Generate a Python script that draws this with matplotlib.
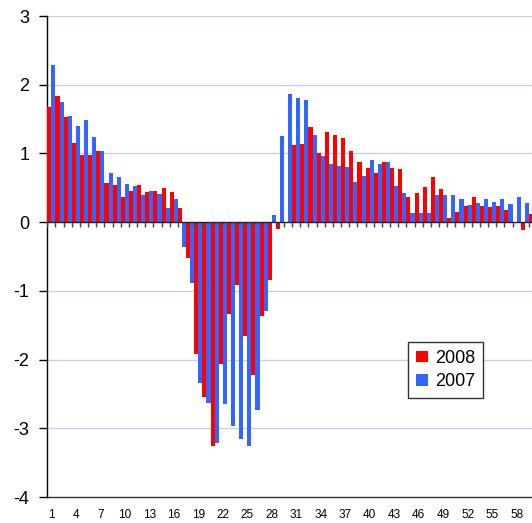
import numpy as np
import matplotlib
matplotlib.use("Agg")
import matplotlib.pyplot as plt

plt.rcParams['font.family'] = ['Liberation Sans', 'DejaVu Sans']

categories = list(range(1, 61))
series_2008 = [1.67, 1.84, 1.53, 1.15, 0.97, 0.97, 1.03, 0.57, 0.54, 0.37,
               0.46, 0.54, 0.44, 0.46, 0.49, 0.44, 0.21, -0.52, -1.92, -2.55,
               -3.26, -2.06, -1.33, -0.92, -1.66, -2.22, -1.37, -0.84, -0.10, 0.0,
               1.12, 1.14, 1.39, 1.00, 1.31, 1.27, 1.22, 1.03, 0.88, 0.79,
               0.72, 0.88, 0.79, 0.77, 0.37, 0.43, 0.51, 0.65, 0.48, 0.06,
               0.15, 0.24, 0.37, 0.24, 0.22, 0.24, 0.18, 0.0, -0.11, 0.12]
series_2007 = [2.29, 1.75, 1.55, 1.40, 1.49, 1.24, 1.03, 0.71, 0.66, 0.55,
               0.52, 0.39, 0.46, 0.41, 0.21, 0.33, -0.36, -0.89, -2.34, -2.63,
               -3.21, -2.64, -2.96, -3.15, -3.26, -2.73, -1.29, 0.10, 1.26, 1.87,
               1.81, 1.78, 1.27, 0.96, 0.84, 0.81, 0.80, 0.58, 0.67, 0.90,
               0.84, 0.87, 0.52, 0.43, 0.14, 0.13, 0.14, 0.39, 0.39, 0.39,
               0.33, 0.25, 0.28, 0.33, 0.30, 0.34, 0.27, 0.36, 0.28, 0.30]
series_names = ["2008", "2007"]
x_tick_labels = [str(c) for c in categories[::3]]
y_ticks = [3, 2, 1, 0, -1, -2, -3, -4]

W, H = 532, 523
fig = plt.figure(figsize=(W / 100, H / 100), dpi=100)
left_px, right_px, top_px, bot_px = 47.3, 537.0, 16.0, 497.0
ax = fig.add_axes([left_px / W, 1 - bot_px / H, (right_px - left_px) / W, (bot_px - top_px) / H])

x = np.array(categories, dtype=float)
w = 0.5
ax.bar(x - w / 2, series_2008, width=w, color='#FF0000', label=series_names[0], zorder=3, linewidth=0)
ax.bar(x + w / 2, series_2007, width=w, color='#3366FF', label=series_names[1], zorder=3, linewidth=0)

ax.set_xlim(0.5, len(categories) + 0.5)
ax.set_ylim(-4, 3)

# gridlines
for yv in y_ticks:
    if yv not in (0, -4):
        ax.axhline(yv, color='#CCCCF5', lw=1.0, zorder=1)

# zero line with category-boundary ticks
ax.axhline(0, color='#222222', lw=1.0, zorder=4)
bounds = np.arange(0.5, len(categories) + 1, 1.0)
ax.vlines(bounds, -0.075, 0, color='#444444', lw=1.0, zorder=4)

ax.set_yticks(y_ticks)
ax.set_yticklabels([str(v) for v in y_ticks])
ax.tick_params(axis='y', length=6, width=1, pad=7, labelsize=13, color='black')

ax.set_xticks(categories[::3])
ax.set_xticklabels(x_tick_labels)
ax.tick_params(axis='x', length=0, pad=9, labelsize=8.5)

for s in ['top', 'right']:
    ax.spines[s].set_visible(False)
ax.spines['left'].set_color('black')
ax.spines['bottom'].set_color('#333333')
ax.spines['left'].set_linewidth(1)
ax.spines['bottom'].set_linewidth(1)

leg = ax.legend(loc='upper left', bbox_to_anchor=(408.3 / W, 1 - 341.7 / H),
                bbox_transform=fig.transFigure, fontsize=13, frameon=True,
                fancybox=False, handlelength=0.62, handleheight=0.62,
                handletextpad=0.4, borderpad=0.45, labelspacing=0.35,
                borderaxespad=0)
leg.get_frame().set_edgecolor('#333333')
leg.get_frame().set_linewidth(1.0)
leg.get_frame().set_alpha(1)

fig.savefig('out.png', dpi=100)
